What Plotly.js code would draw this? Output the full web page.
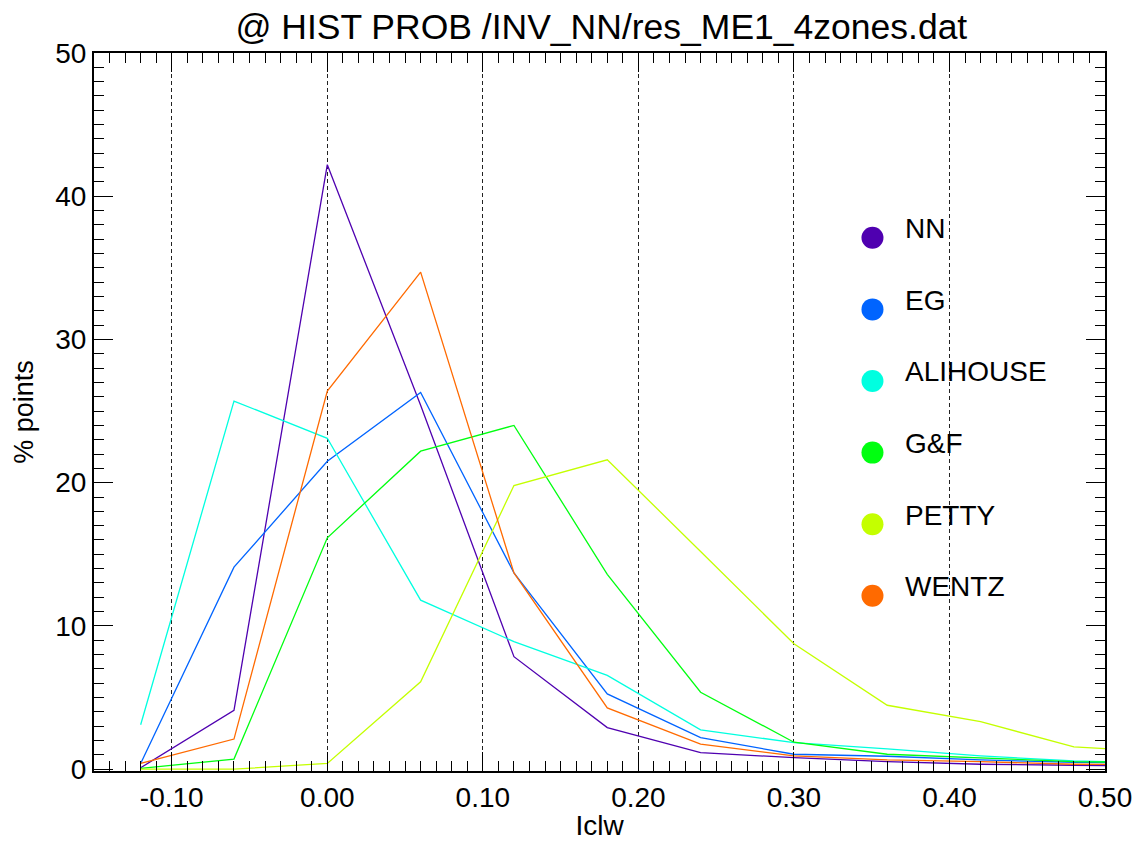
<!DOCTYPE html>
<html>
<head>
<meta charset="utf-8">
<script src="https://cdn.plot.ly/plotly-3.0.1.min.js"></script>
<style>html,body{margin:0;padding:0;background:#fff;}#chart{width:1141px;height:841px;}</style>
</head>
<body>
<div id="chart"></div>
<script>
// Bin centres (Iclw)
const binCenters = [-0.12, -0.06, 0.00, 0.06, 0.12, 0.18, 0.24, 0.30, 0.36, 0.42, 0.48, 0.54];

// % points per series
const seriesNames = ["NN", "EG", "ALIHOUSE", "G&F", "PETTY", "WENTZ"];
const nnValues      = [0.1, 4.1, 42.2, 25.4, 7.85, 2.9, 1.15, 0.8, 0.52, 0.34, 0.27, 0.2];
const egValues      = [0.4, 14.1, 21.5, 26.3, 13.7, 5.25, 2.2, 1.04, 0.9, 0.64, 0.48, 0.4];
const alihouseValues= [3.1, 25.7, 23.1, 11.8, 8.9, 6.55, 2.74, 1.85, 1.41, 0.92, 0.57, 0.45];
const gfValues      = [0.05, 0.7, 16.15, 22.2, 24.0, 13.6, 5.37, 1.88, 1.04, 0.76, 0.52, 0.45];
const pettyValues   = [0.0, 0.0, 0.4, 6.1, 19.8, 21.6, 15.2, 8.75, 4.46, 3.32, 1.55, 1.2];
const wentzValues   = [0.4, 2.1, 26.4, 34.7, 13.7, 4.27, 1.74, 0.92, 0.64, 0.52, 0.34, 0.3];
const seriesColors  = ["#4f00b0", "#0064ff", "#00ffe0", "#00ff10", "#c4ff00", "#ff6a00"];

const allValues = [nnValues, egValues, alihouseValues, gfValues, pettyValues, wentzValues];

const FONT = "Liberation Sans, Arial, Helvetica, sans-serif";

const traces = seriesNames.map((name, i) => ({
  type: "scatter",
  mode: "lines",
  name: name,
  x: binCenters,
  y: allValues[i],
  line: {color: seriesColors[i], width: 1.3},
  showlegend: false,
  hoverinfo: "x+y+name"
}));

// Legend drawn as in the original: dots + labels inside the plot
const legendX = 0.3505, legendTextX = 0.370, legendTop = 37.1, legendStep = 5;
const shapes = [];
const annotations = [];
seriesNames.forEach((name, i) => {
  const yy = legendTop - legendStep * i;
  shapes.push({
    type: "circle", xref: "x", yref: "y",
    xsizemode: "pixel", ysizemode: "pixel",
    xanchor: legendX, yanchor: yy,
    x0: -11, x1: 11, y0: -11, y1: 11,
    fillcolor: seriesColors[i], line: {width: 0}
  });
  annotations.push({
    xref: "x", yref: "y", x: legendTextX, y: yy, yshift: 9,
    text: name, showarrow: false, xanchor: "left", yanchor: "middle",
    font: {family: FONT, size: 28, color: "#000"}
  });
});

const layout = {
  width: 1141, height: 841,
  paper_bgcolor: "#fff", plot_bgcolor: "#fff",
  margin: {l: 94, r: 36, t: 53, b: 70},
  font: {family: FONT, color: "#000"},
  title: {
    text: "@ HIST PROB /INV_NN/res_ME1_4zones.dat",
    font: {family: FONT, size: 35.5, color: "#000"},
    x: 0.527, xanchor: "center", y: 0.968, yanchor: "middle"
  },
  xaxis: {
    range: [-0.15, 0.5],
    tickmode: "array",
    tickvals: [-0.1, 0, 0.1, 0.2, 0.3, 0.4, 0.5],
    ticktext: ["-0.10", "0.00", "0.10", "0.20", "0.30", "0.40", "0.50"],
    ticks: "inside", ticklen: 19, tickwidth: 1, tickcolor: "#000",
    minor: {dtick: 0.01, tick0: 0, ticks: "inside", ticklen: 10, tickwidth: 1, tickcolor: "#000", showgrid: false},
    showgrid: true, gridcolor: "#222", gridwidth: 1, griddash: "4px,3px",
    showline: true, linecolor: "#000", linewidth: 2, mirror: "allticks",
    zeroline: false,
    tickfont: {family: FONT, size: 28, color: "#000"},
    title: {text: "Iclw", font: {family: FONT, size: 28, color: "#000"}, standoff: 4}
  },
  yaxis: {
    range: [-0.13, 50],
    tickmode: "array",
    tickvals: [0, 10, 20, 30, 40, 50],
    ticks: "inside", ticklen: 19, tickwidth: 1, tickcolor: "#000",
    minor: {dtick: 1, tick0: 0, ticks: "inside", ticklen: 10, tickwidth: 1, tickcolor: "#000", showgrid: false},
    showgrid: false,
    showline: true, linecolor: "#000", linewidth: 2, mirror: "allticks",
    zeroline: false,
    tickfont: {family: FONT, size: 28, color: "#000"},
    title: {text: "% points", font: {family: FONT, size: 27, color: "#000"}, standoff: 14}
  },
  shapes: shapes,
  annotations: annotations
};

Plotly.newPlot("chart", traces, layout, {displayModeBar: false, staticPlot: true});
</script>
</body>
</html>
